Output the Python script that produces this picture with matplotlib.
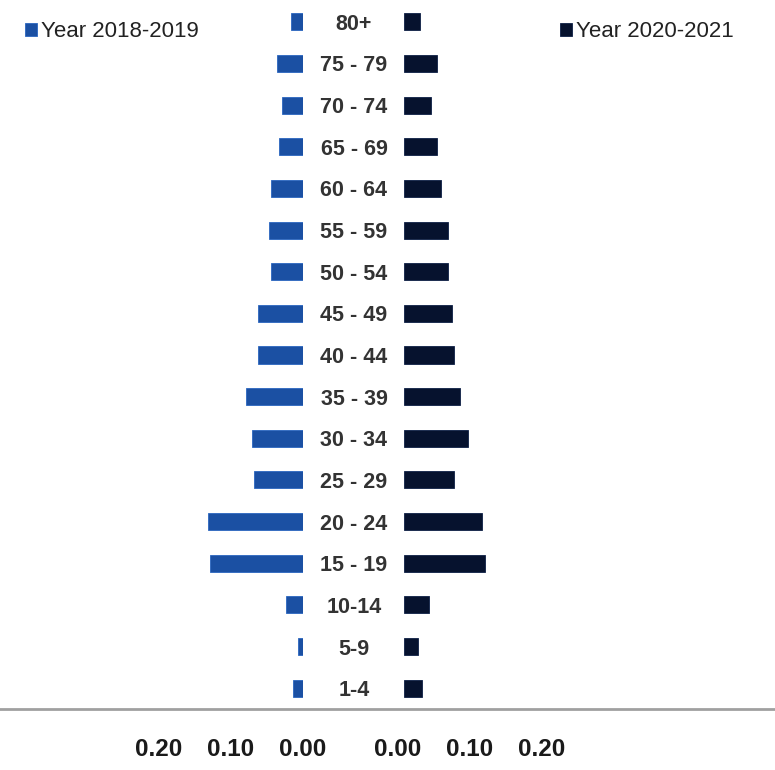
import matplotlib
matplotlib.use("Agg")
import matplotlib.pyplot as plt
import matplotlib.transforms as mtransforms
from matplotlib.lines import Line2D

plt.rcParams['font.family'] = ['Liberation Sans', 'DejaVu Sans']

# age groups from bottom to top
ages = ['1-4', '5-9', '10-14', '15 - 19', '20 - 24', '25 - 29', '30 - 34',
        '35 - 39', '40 - 44', '45 - 49', '50 - 54', '55 - 59', '60 - 64',
        '65 - 69', '70 - 74', '75 - 79', '80+']
year_2018_2019 = [0.014, 0.007, 0.024, 0.129, 0.132, 0.068, 0.071, 0.079,
                  0.063, 0.063, 0.044, 0.047, 0.044, 0.033, 0.029, 0.036, 0.017]
year_2020_2021 = [0.025, 0.019, 0.035, 0.113, 0.108, 0.069, 0.089, 0.078,
                  0.069, 0.067, 0.061, 0.061, 0.051, 0.046, 0.038, 0.046, 0.022]
ticks = [0.0, 0.1, 0.2]
tick_labels = ['0.00', '0.10', '0.20']

W, H = 775, 770
fig = plt.figure(figsize=(W / 100, H / 100), dpi=100)

bottom = (H - 709) / H
height = 708 / H
ax_l = fig.add_axes([159 / W, bottom, 144 / W, height])
ax_r = fig.add_axes([404 / W, bottom, 144 / W, height])

pos = range(len(ages))
bars_l = ax_l.barh(pos, year_2018_2019, height=0.41, color='#1b50a3',
                   edgecolor='#2a66c0', linewidth=0.6)
bars_r = ax_r.barh(pos, year_2020_2021, height=0.41, color='#06122e',
                   edgecolor='#0d1f45', linewidth=0.6)

ax_l.set_xlim(0.2, 0)
ax_r.set_xlim(0, 0.2)
for ax in (ax_l, ax_r):
    ax.set_ylim(-0.5, len(ages) - 0.5)
    ax.set_yticks([])
    ax.set_xticks(ticks)
    ax.set_xticklabels(tick_labels, fontsize=17.5, fontweight='bold', color='#1a1a1a')
    ax.tick_params(axis='x', length=0, pad=21)
    for s in ax.spines.values():
        s.set_visible(False)

# right tick labels sit a little left in the original
shift = mtransforms.ScaledTranslation(-6 / 100, 0, fig.dpi_scale_trans)
for lab in ax_r.get_xticklabels():
    lab.set_transform(lab.get_transform() + shift)

# age labels between the two panels
trans = mtransforms.blended_transform_factory(fig.transFigure, ax_l.transData)
for i, a in enumerate(ages):
    fig.text(354 / W, i - 0.06, a, transform=trans, ha='center', va='center',
             fontsize=15.5, fontweight='bold', color='#333333')

# horizontal rule across the figure
fig.add_artist(Line2D([0, 1], [bottom, bottom], transform=fig.transFigure,
                      color='#a0a0a0', linewidth=2))

fig.legend(handles=[bars_l], labels=['Year 2018-2019'], loc='upper left',
           bbox_to_anchor=(14 / W, 1 - 10 / H), frameon=False, fontsize=16,
           handlelength=0.55, handleheight=0.55, handletextpad=0.15,
           borderpad=0, labelcolor='#222222')
fig.legend(handles=[bars_r], labels=['Year 2020-2021'], loc='upper left',
           bbox_to_anchor=(549 / W, 1 - 10 / H), frameon=False, fontsize=16,
           handlelength=0.55, handleheight=0.55, handletextpad=0.15,
           borderpad=0, labelcolor='#222222')

fig.savefig('out.png', dpi=100, facecolor='white')
